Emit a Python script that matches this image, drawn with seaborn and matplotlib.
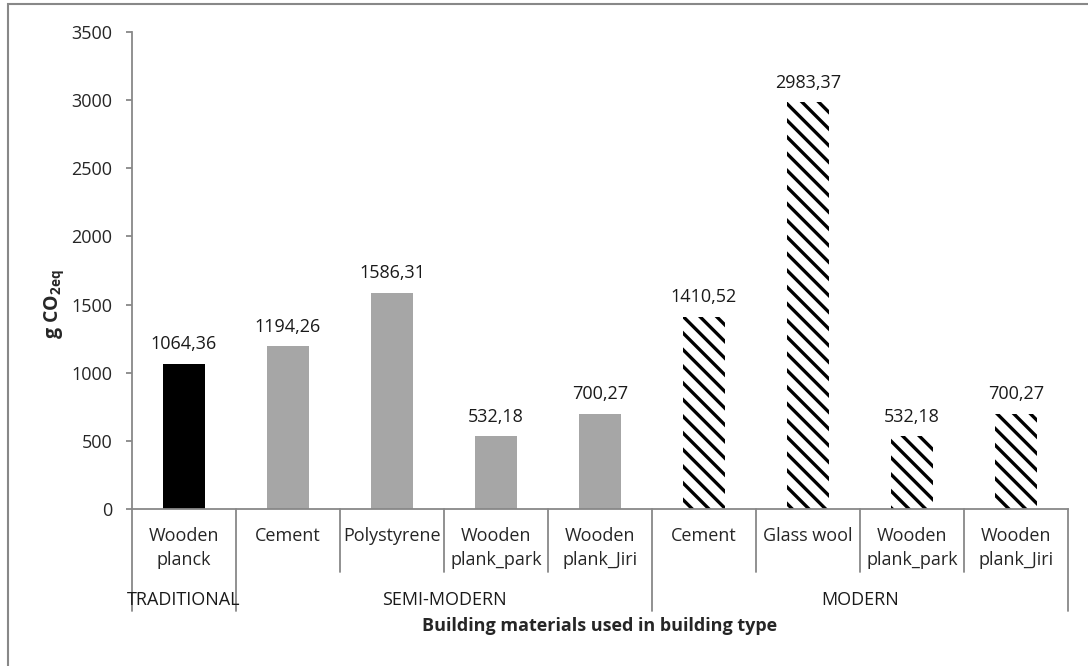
import matplotlib
matplotlib.use("Agg")
import matplotlib.pyplot as plt
import matplotlib.patches as mpatches
import pandas as pd
import seaborn as sns

# chart data
materials = ["Wooden\nplanck", "Cement", "Polystyrene", "Wooden\nplank_park", "Wooden\nplank_Jiri",
             "Cement", "Glass wool", "Wooden\nplank_park", "Wooden\nplank_Jiri"]
emissions = [1064.36, 1194.26, 1586.31, 532.18, 700.27, 1410.52, 2983.37, 532.18, 700.27]
building_type = ["TRADITIONAL", "SEMI-MODERN", "SEMI-MODERN", "SEMI-MODERN", "SEMI-MODERN",
                 "MODERN", "MODERN", "MODERN", "MODERN"]
groups = ["TRADITIONAL", "SEMI-MODERN", "MODERN"]
group_colors = {"TRADITIONAL": "#000000", "SEMI-MODERN": "#a6a6a6", "MODERN": "#ffffff"}

sns.set_theme(style="white")
plt.rcParams["font.family"] = ["Open Sans", "DejaVu Sans"]
plt.rcParams["mathtext.fontset"] = "custom"
plt.rcParams["mathtext.rm"] = "Open Sans"
plt.rcParams["mathtext.bf"] = "Open Sans:bold"
plt.rcParams["hatch.linewidth"] = 2.4
plt.rcParams["hatch.color"] = "black"

grey = "#888888"
fs = 13

df = pd.DataFrame({
    "slot": [f"{i}" for i in range(len(materials))],
    "value": emissions,
    "group": building_type,
})

fig = plt.figure(figsize=(10.88, 6.66), dpi=100)
ax = fig.add_axes([132 / 1088, 1 - 509 / 666, (1068 - 132) / 1088, (509 - 32) / 666])

sns.barplot(data=df, x="slot", y="value", hue="group", palette=group_colors,
            dodge=False, legend=False, width=0.4, linewidth=0, saturation=1, ax=ax)

# hatch the modern bars
for patch in ax.patches:
    if patch.get_facecolor()[:3] == (1.0, 1.0, 1.0):
        patch.set_hatch("\\\\")
        patch.set_edgecolor("black")
        patch.set_linewidth(0)

# value labels with comma decimals
for i, v in enumerate(emissions):
    ax.annotate(f"{v:.2f}".replace(".", ","), (i, v), xytext=(0, 14), textcoords="offset points",
                ha="center", va="center", fontsize=fs, color="#1a1a1a")

ax.set_xlim(-0.5, len(materials) - 0.5)
ax.set_ylim(0, 3500)
ax.set_yticks(range(0, 3501, 500))
ax.set_yticklabels([str(t) for t in range(0, 3501, 500)])
ax.set_xticks(range(len(materials)))
ax.set_xticklabels(materials, fontsize=fs, linespacing=1.4)
ax.tick_params(axis="x", length=0, pad=13)
ax.tick_params(axis="y", length=4, width=1.3, color=grey, direction="out", pad=10, labelsize=fs, left=True)

for side in ["top", "right"]:
    ax.spines[side].set_visible(False)
for side in ["left", "bottom"]:
    ax.spines[side].set_color(grey)
    ax.spines[side].set_linewidth(1.3)
ax.grid(False)

# category table below the axis
trans = ax.get_xaxis_transform()
group_edges = [-0.5, 0.5, 4.5, 8.5]
for b in [i - 0.5 for i in range(len(materials) + 1)]:
    bottom = -0.214 if b in group_edges else -0.132
    ax.plot([b, b], [0, bottom], transform=trans, color=grey, lw=1.3, clip_on=False)
for g, left, right in zip(groups, group_edges[:-1], group_edges[1:]):
    ax.text((left + right) / 2, -0.191, g, transform=trans, ha="center", va="center",
            fontsize=fs, color="#1a1a1a")

ax.set_xlabel("Building materials used in building type", fontsize=fs, fontweight="bold", va="top")
ax.xaxis.set_label_coords(0.5, -0.226)
ax.set_ylabel(r"g CO$_{\mathbf{2eq}}$", fontsize=14, fontweight="bold")
ax.yaxis.set_label_coords(-0.071, 0.43)

# outer chart border (only top and left visible in the crop)
fig.patches.append(mpatches.Rectangle((8 / 1088, -0.1), 1.2, 1 - 4 / 666 + 0.1, transform=fig.transFigure,
                                      fill=False, edgecolor=grey, linewidth=1.5))

fig.savefig("out.png", dpi=100)
